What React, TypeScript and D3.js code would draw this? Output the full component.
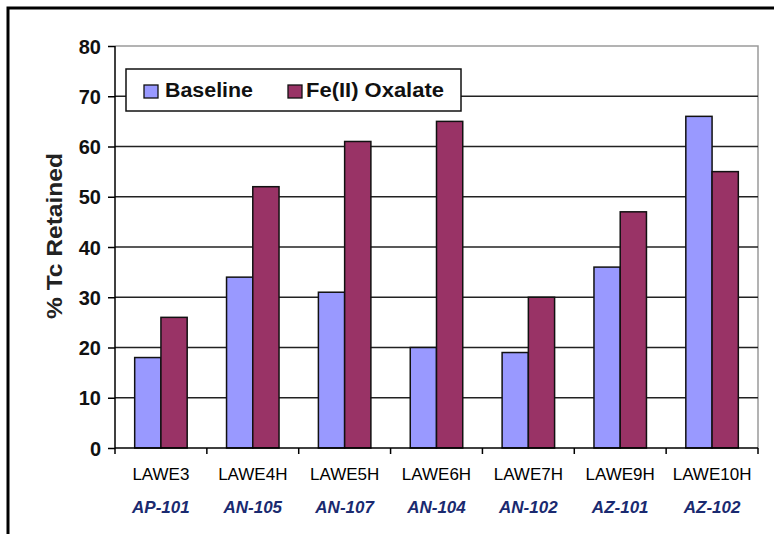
import React, { useRef, useEffect } from 'react';
import * as d3 from 'd3';

const categories = ['LAWE3', 'LAWE4H', 'LAWE5H', 'LAWE6H', 'LAWE7H', 'LAWE9H', 'LAWE10H'];
const tanks = ['AP-101', 'AN-105', 'AN-107', 'AN-104', 'AN-102', 'AZ-101', 'AZ-102'];
const seriesNames = ['Baseline', 'Fe(II) Oxalate'];
const baseline = [18, 34, 31, 20, 19, 36, 66];
const oxalate = [26, 52, 61, 65, 30, 47, 55];
const yTicks = [0, 10, 20, 30, 40, 50, 60, 70, 80];
const colors = ['#9999ff', '#993366'];

const W = 774;
const H = 534;

function drawChart(node: SVGSVGElement) {
    const margin = { top: 46, right: 16, bottom: 86, left: 115 };
    const width = W - margin.left - margin.right;
    const height = H - margin.top - margin.bottom;

    const svg = d3.select(node);
    svg.selectAll('*').remove();

    // outer frame (cut off at right and bottom)
    svg.append('path')
        .attr('d', `M8,${H + 10} L8,8 L${W + 10},8`)
        .attr('fill', 'none')
        .attr('stroke', '#000')
        .attr('stroke-width', 3);

    const g = svg.append('g')
        .attr('transform', `translate(${margin.left},${margin.top})`);

    const x0 = d3.scaleBand().domain(categories).range([0, width]).paddingInner(0).paddingOuter(0);
    // Excel gap width ~150%
    const x1 = d3.scaleBand().domain(seriesNames)
        .range([0, x0.bandwidth()]).paddingInner(0).paddingOuter(0.75);
    const y = d3.scaleLinear().domain([0, 80]).range([height, 0]);

    // plot border (top + right)
    g.append('path')
        .attr('d', `M0,0 L${width},0 L${width},${height}`)
        .attr('fill', 'none')
        .attr('stroke', '#9a9a9a')
        .attr('stroke-width', 1.5);

    // grid lines
    g.selectAll('.grid')
        .data(yTicks.filter(t => t > 0 && t < 80))
        .enter().append('line')
        .attr('x1', 0)
        .attr('x2', width)
        .attr('y1', d => y(d))
        .attr('y2', d => y(d))
        .attr('stroke', '#222')
        .attr('stroke-width', 1.3);

    const data = categories.map((c, i) => ({ cat: c, values: [baseline[i], oxalate[i]] }));

    const groups = g.selectAll('.grp')
        .data(data)
        .enter().append('g')
        .attr('transform', d => `translate(${x0(d.cat)},0)`);

    groups.selectAll('rect')
        .data(d => d.values.map((v, j) => ({ v, s: seriesNames[j], j })))
        .enter().append('rect')
        .attr('x', d => x1(d.s) as number)
        .attr('width', x1.bandwidth())
        .attr('y', d => y(d.v))
        .attr('height', d => height - y(d.v))
        .attr('fill', d => colors[d.j])
        .attr('stroke', '#111')
        .attr('stroke-width', 1.5);

    // y axis
    const yAxis = d3.axisLeft(y).tickValues(yTicks).tickSize(7).tickFormat(d3.format('d'));
    const ya = g.append('g').call(yAxis);
    ya.select('.domain').attr('stroke', '#000').attr('stroke-width', 1.5).attr('d', `M0,0V${height}`);
    ya.selectAll('.tick line').attr('stroke', '#000').attr('stroke-width', 1.5);
    ya.selectAll('.tick text')
        .attr('x', -14)
        .attr('dy', '0.36em')
        .style('font-family', 'Liberation Sans, Arial, sans-serif')
        .style('font-size', '20px')
        .style('font-weight', 'bold')
        .attr('fill', '#111');

    // x axis with ticks at category boundaries
    g.append('line')
        .attr('x1', 0).attr('x2', width)
        .attr('y1', height).attr('y2', height)
        .attr('stroke', '#000').attr('stroke-width', 1.5);
    const bounds = categories.map(c => x0(c) as number).concat([width]);
    g.selectAll('.xtick')
        .data(bounds)
        .enter().append('line')
        .attr('x1', d => d).attr('x2', d => d)
        .attr('y1', height).attr('y2', height + 6)
        .attr('stroke', '#000').attr('stroke-width', 1.5);

    g.selectAll('.xlab')
        .data(categories)
        .enter().append('text')
        .attr('x', d => (x0(d) as number) + x0.bandwidth() / 2)
        .attr('y', height + 31.5)
        .attr('text-anchor', 'middle')
        .style('font-family', 'Liberation Sans, Arial, sans-serif')
        .style('font-size', '17px')
        .attr('fill', '#000')
        .text(d => d);

    g.selectAll('.xlab2')
        .data(tanks)
        .enter().append('text')
        .attr('x', (d, i) => (x0(categories[i]) as number) + x0.bandwidth() / 2)
        .attr('y', height + 64.5)
        .attr('text-anchor', 'middle')
        .style('font-family', 'Liberation Sans, Arial, sans-serif')
        .style('font-size', '17px')
        .style('font-weight', 'bold')
        .style('font-style', 'italic')
        .attr('fill', '#1a2a70')
        .text(d => d);

    // y axis title
    svg.append('text')
        .attr('transform', 'translate(62,236) rotate(-90)')
        .attr('text-anchor', 'middle')
        .style('font-family', 'Liberation Sans, Arial, sans-serif')
        .style('font-size', '22px')
        .style('font-weight', 'bold')
        .attr('fill', '#222')
        .attr('textLength', 166)
        .attr('lengthAdjust', 'spacingAndGlyphs')
        .text('% Tc Retained');

    // legend
    const lg = svg.append('g').attr('transform', 'translate(126,69)');
    lg.append('rect')
        .attr('width', 335)
        .attr('height', 42)
        .attr('fill', '#fff')
        .attr('stroke', '#111')
        .attr('stroke-width', 1.5);
    const items = [
        { name: seriesNames[0], sx: 18, tx: 39, len: 88 },
        { name: seriesNames[1], sx: 162, tx: 180, len: 138 },
    ];
    items.forEach((it, i) => {
        lg.append('rect')
            .attr('x', it.sx)
            .attr('y', 16)
            .attr('width', 14)
            .attr('height', 13)
            .attr('fill', colors[i])
            .attr('stroke', '#111')
            .attr('stroke-width', 1.3);
        lg.append('text')
            .attr('x', it.tx)
            .attr('y', 28)
            .style('font-family', 'Liberation Sans, Arial, sans-serif')
            .style('font-size', '20px')
            .style('font-weight', 'bold')
            .attr('fill', '#111')
            .attr('textLength', it.len)
            .attr('lengthAdjust', 'spacingAndGlyphs')
            .text(it.name);
    });
}

const App = () => {
    const ref = useRef<SVGSVGElement>(null);

    useEffect(() => {
        if (ref.current) {
            drawChart(ref.current);
        }
    }, []);

    return (
        <svg
            ref={ref}
            width={W}
            height={H}
            style={{ position: 'absolute', left: 0, top: 0, background: '#fff' }}
        />
    );
};

export default App;
